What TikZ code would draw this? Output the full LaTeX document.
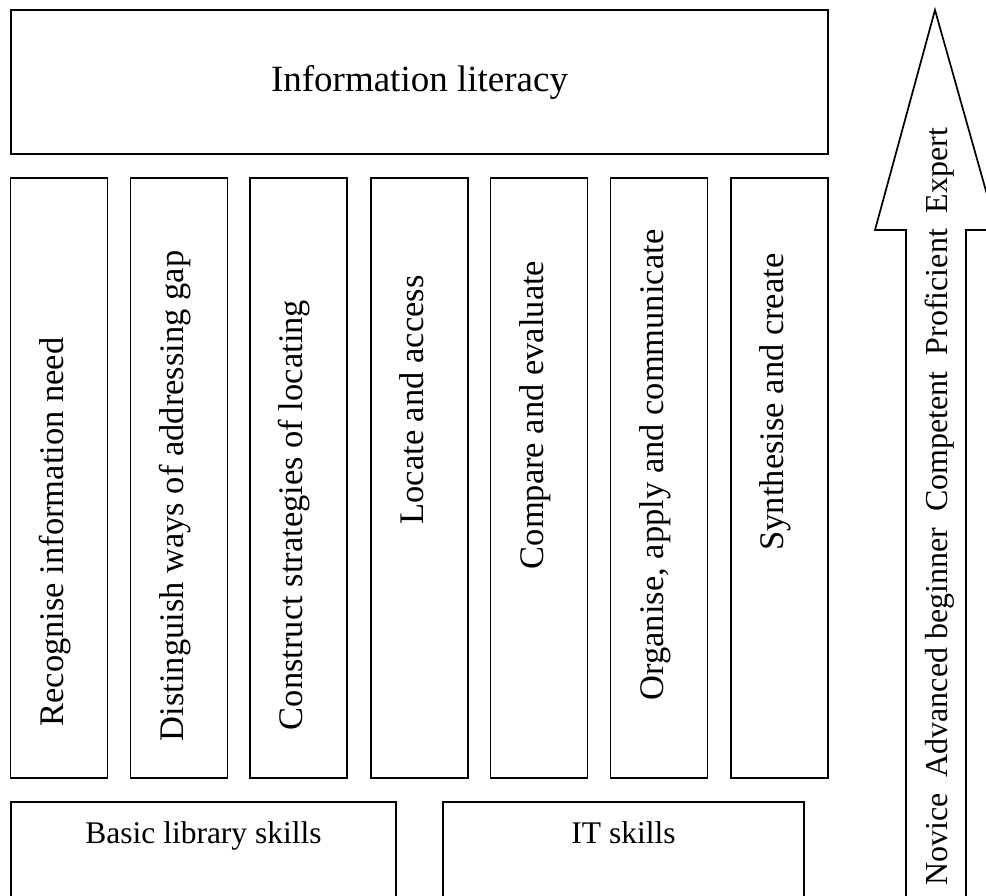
\documentclass[tikz,border=0pt]{standalone}
\usepackage{fontspec}
\setmainfont{Liberation Serif}
\begin{document}
\begin{tikzpicture}[x=1pt,y=-1pt,
  box/.style={draw, line width=1.7pt, inner sep=0pt},
  pillar/.style={box, minimum width=97pt, minimum height=600pt},
  ptext/.style={rotate=90, anchor=base, inner sep=0pt, font=\fontsize{34.5}{41}\selectfont},
  btext/.style={anchor=base, inner sep=0pt, font=\fontsize{31.5}{38}\selectfont},
]
\useasboundingbox (0,0) rectangle (986,895);
\clip (0,0) rectangle (986,895);
% top box
\node[box, minimum width=817pt, minimum height=144pt] (top) at (419.5,82) {};
\node[inner sep=0pt, font=\fontsize{37}{44}\selectfont] (toptext) at (top.center) {Information literacy};
% pillars
\node[pillar] (p1) at (59,478) {};
\node[pillar] (p2) at (179,478) {};
\node[pillar] (p3) at (298.5,478) {};
\node[pillar] (p4) at (419.5,478) {};
\node[pillar] (p5) at (539,478) {};
\node[pillar] (p6) at (659,478) {};
\node[pillar] (p7) at (779.5,478) {};
\node[ptext] (t1) at (63,532) {Recognise information need};
\node[ptext] (t2) at (183,496) {Distinguish ways of addressing gap};
\node[ptext] (t3) at (302.5,515) {Construct strategies of locating};
\node[ptext] (t4) at (423.5,400) {Locate and access};
\node[ptext] (t5) at (543,415) {Compare and evaluate};
\node[ptext] (t6) at (663,465) {Organise, apply and communicate};
\node[ptext] (t7) at (783.5,402) {Synthesise and create};
% bottom boxes
\node[box, minimum width=385pt, minimum height=140pt] (basic) at (203.5,872) {};
\node[box, minimum width=361pt, minimum height=140pt] (it) at (623.5,872) {};
\node[btext] (basictext) at (203.5,843) {Basic library skills};
\node[btext] (ittext) at (623.5,843) {IT skills};
% progression arrow
\coordinate (sl) at (906,905);
\coordinate (sr) at (966,905);
\coordinate (hl) at (875,230);
\coordinate (hr) at (997,230);
\coordinate (tip) at (935,10);
\draw[line width=1.7pt, line join=miter] (sl) -- (906,230) -- (hl) -- (tip) -- (hr) -- (966,230) -- (sr);
\node[rotate=90, anchor=base west, inner sep=0pt, font=\fontsize{32}{38}\selectfont] (levels) at (947,886)
  {Novice\hspace{0.5em}Advanced beginner\hspace{0.5em}Competent\hspace{0.5em}Proficient\hspace{0.5em}Expert};
\end{tikzpicture}
\end{document}
